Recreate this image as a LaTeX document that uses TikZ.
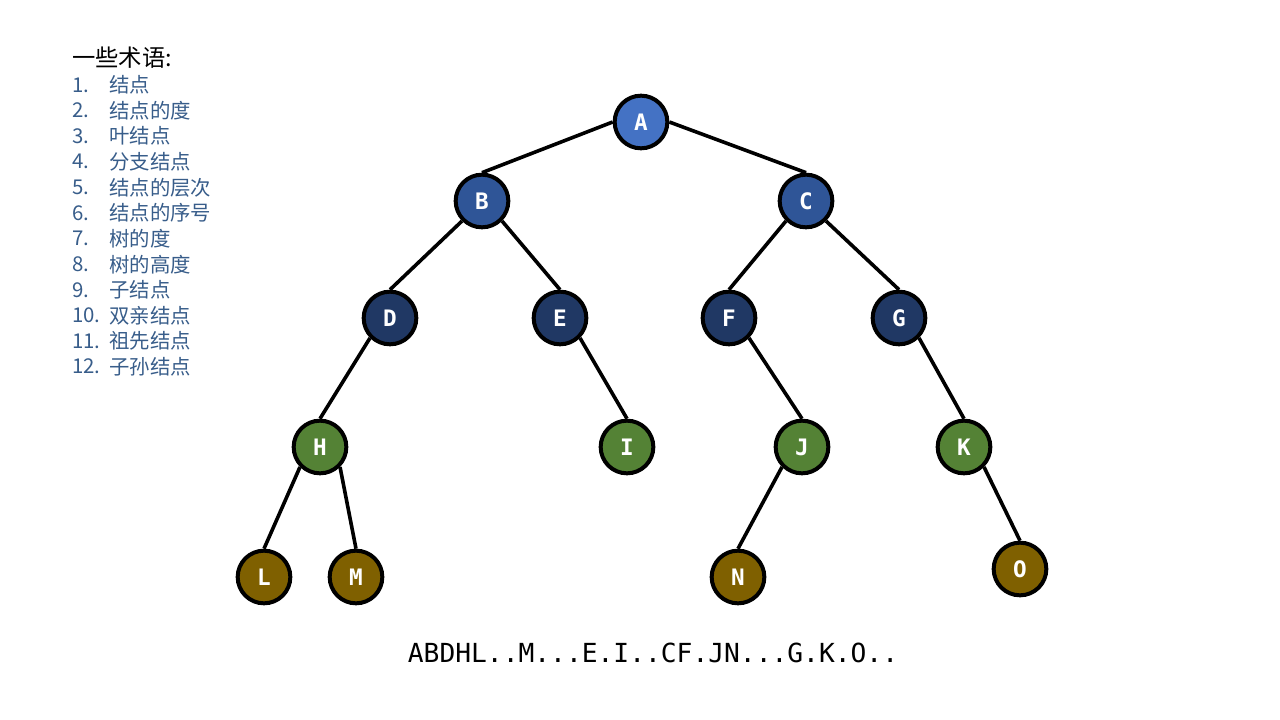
\documentclass[tikz,border=0pt]{standalone}
\usepackage{fontspec}
\newfontfamily\cjk{Noto Sans CJK SC}
\newfontfamily\mono{DejaVu Sans Mono}
\definecolor{cA}{HTML}{4472C4}
\definecolor{cB}{HTML}{2F5597}
\definecolor{cD}{HTML}{203864}
\definecolor{cH}{HTML}{548235}
\definecolor{cL}{HTML}{7F6000}
\definecolor{listc}{HTML}{385D8A}
\begin{document}
\begin{tikzpicture}[x=0.75pt,y=-0.75pt,
  tnode/.style={circle,draw=black,line width=3pt,minimum size=39.5pt,inner sep=0pt,
    text=white,font=\mono\bfseries\fontsize{17}{19}\selectfont},
  lvA/.style={tnode,fill=cA},
  lvB/.style={tnode,fill=cB},
  lvD/.style={tnode,fill=cD},
  lvH/.style={tnode,fill=cH},
  lvL/.style={tnode,fill=cL},
  edge/.style={line width=2.7pt,draw=black},
  num/.style={anchor=west,inner sep=0pt,text=listc,font=\cjk\fontsize{15.3}{18}\selectfont},
  term/.style={anchor=west,inner sep=0pt,text=listc,font=\cjk\fontsize{15.3}{18}\selectfont}]
\useasboundingbox (0,0) rectangle (1280,720);
% tree nodes
\node[lvA] (A) at (641,122) {A};
\node[lvB] (B) at (482,201) {B};
\node[lvB] (C) at (806,201) {C};
\node[lvD] (D) at (390,318) {D};
\node[lvD] (E) at (560,318) {E};
\node[lvD] (F) at (729,318) {F};
\node[lvD] (G) at (899,318) {G};
\node[lvH] (H) at (320,447) {H};
\node[lvH] (I) at (627,447) {I};
\node[lvH] (J) at (802,447) {J};
\node[lvH] (K) at (964,447) {K};
\node[lvL] (L) at (264,577) {L};
\node[lvL] (M) at (356,577) {M};
\node[lvL] (N) at (738,577) {N};
\node[lvL] (O) at (1020,569) {O};
% edges
\draw[edge] (A.west) -- (B.north);
\draw[edge] (A.east) -- (C.north);
\draw[edge] (B.south west) -- (D.north);
\draw[edge] (B.south east) -- (E.north);
\draw[edge] (C.south west) -- (F.north);
\draw[edge] (C.south east) -- (G.north);
\draw[edge] (D.south west) -- (H.north);
\draw[edge] (E.south east) -- (I.north);
\draw[edge] (F.south east) -- (J.north);
\draw[edge] (G.south east) -- (K.north);
\draw[edge] (H.south west) -- (L.north);
\draw[edge] (H.south east) -- (M.north);
\draw[edge] (J.south west) -- (N.north);
\draw[edge] (K.south east) -- (O.north);
% bottom sequence
\node[inner sep=0pt,font=\mono\fontsize{19.7}{22}\selectfont] (seq) at (653,653) {ABDHL..M...E.I..CF.JN...G.K.O..};
% terms list
\node[anchor=west,inner sep=0pt,font=\cjk\fontsize{17.5}{20}\selectfont] (title) at (72,58) {一些术语:};
\foreach \i/\t [count=\k from 0] in {1/结点,2/结点的度,3/叶结点,4/分支结点,5/结点的层次,6/结点的序号,7/树的度,8/树的高度,9/子结点,10/双亲结点,11/祖先结点,12/子孙结点}{
  \node[num] (n\i) at (72,{85+25.6*\k}) {\i.};
  \node[term] (t\i) at (109,{85+25.6*\k}) {\t};
}
\end{tikzpicture}
\end{document}
